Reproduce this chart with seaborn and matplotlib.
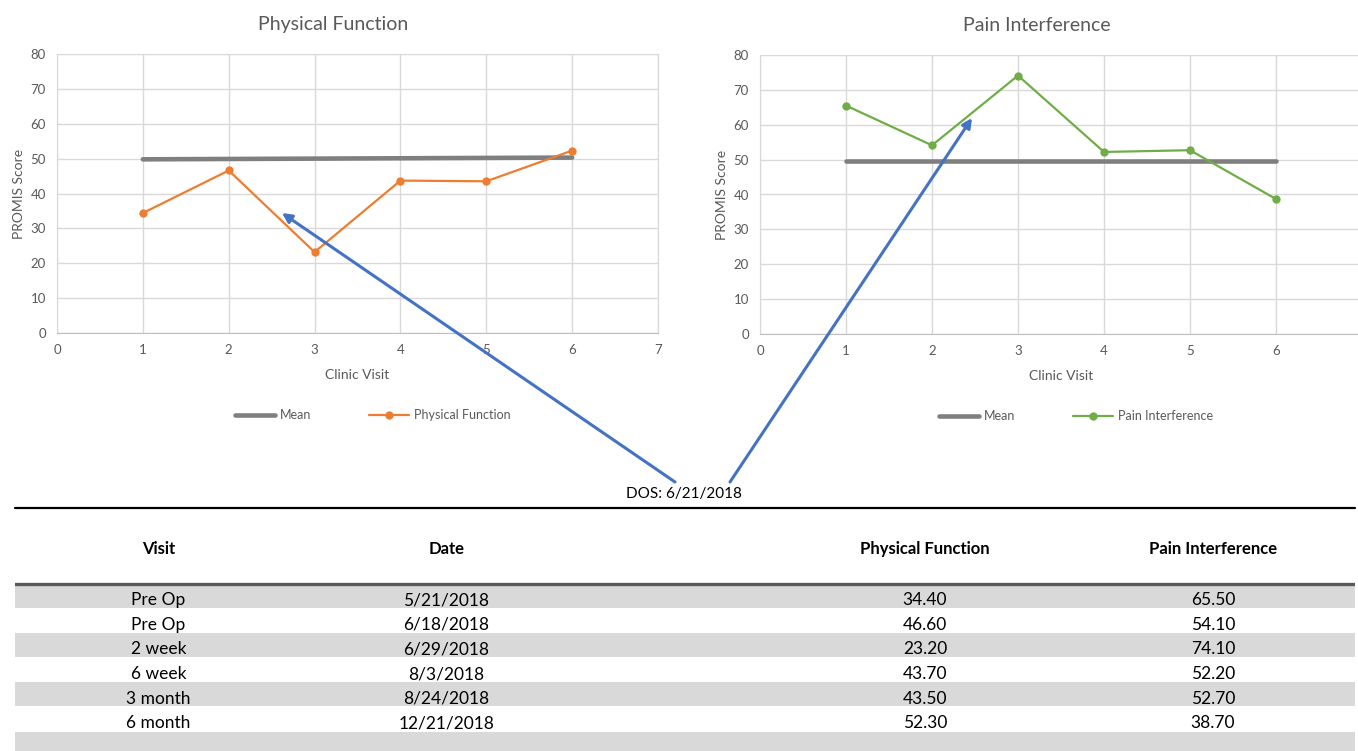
import matplotlib
matplotlib.use('Agg')
import pandas as pd
import matplotlib.pyplot as plt
import seaborn as sns
from matplotlib.patches import FancyArrowPatch

# chart data
visits = [1, 2, 3, 4, 5, 6]
physical_function = [34.4, 46.6, 23.2, 43.7, 43.5, 52.3]
pain_interference = [65.5, 54.1, 74.1, 52.2, 52.7, 38.7]
pf_mean = [49.8, 49.9, 50.0, 50.1, 50.2, 50.3]
pi_mean = [49.5, 49.5, 49.5, 49.5, 49.5, 49.5]

# table data
table_headers = ['Visit', 'Date', 'Physical Function', 'Pain Interference']
visit_names = ['Pre Op', 'Pre Op', '2 week', '6 week', '3 month', '6 month']
visit_dates = ['5/21/2018', '6/18/2018', '6/29/2018', '8/3/2018', '8/24/2018', '12/21/2018']
surgery_label = 'DOS: 6/21/2018'

x_ticks = [0, 1, 2, 3, 4, 5, 6, 7]
y_ticks = [0, 10, 20, 30, 40, 50, 60, 70, 80]

sns.set_style('white')
plt.rcParams['font.family'] = ['Lato', 'DejaVu Sans']

TXT = '#595959'
GRID = '#D9D9D9'

df = pd.DataFrame({'visit': visits,
                   'Physical Function': physical_function,
                   'Pain Interference': pain_interference,
                   'pf_mean': pf_mean,
                   'pi_mean': pi_mean})

fig = plt.figure(figsize=(13.58, 7.51), dpi=100)
W, H = 1358, 751
ax_pf = fig.add_axes([57 / W, 1 - 333 / H, 601 / W, 279 / H])
ax_pi = fig.add_axes([760 / W, 1 - 334 / H, 602 / W, 279 / H])


def draw_panel(ax, title, col, mean_col, color, show_last_tick=True):
    """Excel style line chart with a mean line and the score series"""
    sns.lineplot(data=df, x='visit', y=mean_col, ax=ax, color='#7F7F7F',
                 linewidth=3.3, label='Mean')
    sns.lineplot(data=df, x='visit', y=col, ax=ax, color=color,
                 linewidth=1.6, marker='o', markersize=6, markeredgewidth=0,
                 label=col)
    ax.set_xlim(0, 7)
    ax.set_ylim(0, 80)
    ax.set_xticks(x_ticks)
    labels = [str(t) for t in x_ticks]
    if not show_last_tick:
        # the reference cuts the last label off at the page edge
        labels[-1] = ''
    ax.set_xticklabels(labels)
    ax.set_yticks(y_ticks)
    ax.grid(True, color=GRID, linewidth=1)
    ax.set_axisbelow(True)
    for s in ax.spines.values():
        s.set_color(GRID)
    ax.spines['bottom'].set_color('#BFBFBF')
    ax.tick_params(length=0, labelsize=9.5, labelcolor=TXT, pad=8)
    ax.set_title(title, x=0.46, pad=17, fontsize=14, color=TXT)
    ax.set_xlabel('Clinic Visit', fontsize=10, color=TXT, labelpad=9)
    ax.set_ylabel('PROMIS Score', fontsize=10, color=TXT)
    ax.legend(loc='center', bbox_to_anchor=(0.525, -0.294), ncol=2,
              frameon=False, handlelength=3.2, handletextpad=0.4,
              columnspacing=4.6, fontsize=9, labelcolor=TXT)


draw_panel(ax_pf, 'Physical Function', 'Physical Function', 'pf_mean', '#ED7D31')
draw_panel(ax_pi, 'Pain Interference', 'Pain Interference', 'pi_mean', '#70AD47',
           show_last_tick=False)

# arrows from the surgery date label
for start, tip in [((675, 482), (282, 213)), ((730, 482), (972, 118))]:
    arrow = FancyArrowPatch((start[0] / W, 1 - start[1] / H), (tip[0] / W, 1 - tip[1] / H),
                            transform=fig.transFigure, arrowstyle='-|>',
                            mutation_scale=14, color='#4472C4', linewidth=2.2,
                            shrinkA=0, shrinkB=0, zorder=5)
    fig.add_artist(arrow)

fig.text(684 / W, 1 - 494 / H, surgery_label, ha='center', va='center',
         fontsize=11, color='black')

# table
ax_t = fig.add_axes([15 / W, 0, 1340 / W, 243 / H])
row_h = 24.6
header_h = 76 / row_h
ax_t.set_xlim(0, 1)
ax_t.set_ylim(243 / row_h, 0)
ax_t.axis('off')

col_x = [0.107, 0.322, 0.679, 0.894]
for i in range(7):
    if i % 2 == 0:
        ax_t.axhspan(header_h + i, header_h + i + 0.97, color=GRID, linewidth=0)
ax_t.axhline(0, color='black', linewidth=1.6, clip_on=False)
ax_t.axhline(header_h, color=TXT, linewidth=2.4)

for x, h in zip(col_x, table_headers):
    ax_t.text(x, (549 - 508) / row_h, h, ha='center', va='center',
              fontsize=12, fontweight='bold', color='black')

for i in range(len(visit_names)):
    cells = [visit_names[i], visit_dates[i],
             '{:.2f}'.format(physical_function[i]),
             '{:.2f}'.format(pain_interference[i])]
    for x, c in zip(col_x, cells):
        ax_t.text(x, header_h + i + 0.66, c, ha='center', va='center',
                  fontsize=12.5, color='black')

fig.savefig('out.png', dpi=100, facecolor='white')
